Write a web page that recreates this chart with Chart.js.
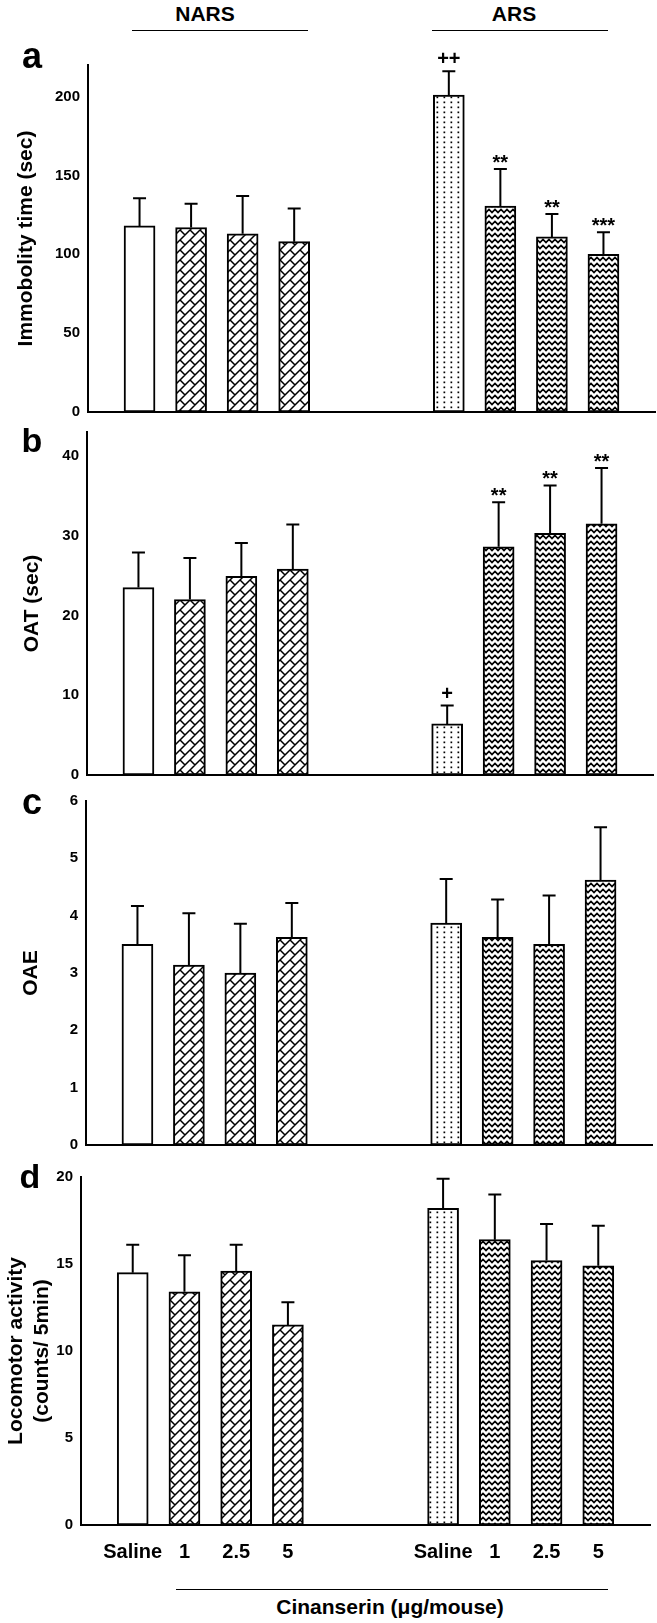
<!DOCTYPE html>
<html>
<head>
<meta charset="utf-8">
<script src="https://cdn.jsdelivr.net/npm/chart.js@4"></script>
<style>
  body { margin: 0; background: #fff; }
  #page { position: relative; width: 657px; height: 1623px; overflow: hidden;
          font-family: "Liberation Sans", Arial, sans-serif; color: #000; }
  .panel { position: absolute; left: 0; }
  .txt { position: absolute; font-weight: bold; white-space: nowrap; transform: translate(-50%, -50%); }
  .rule { position: absolute; height: 0; border-top: 1.5px solid #000; }
</style>
</head>
<body>
<div id="page">
  <div class="txt" style="left:205px;top:14px;font-size:21px">NARS</div>
  <div class="rule" style="left:132px;top:30px;width:176px"></div>
  <div class="txt" style="left:514px;top:14px;font-size:21px">ARS</div>
  <div class="rule" style="left:432px;top:30px;width:176px"></div>

  <div class="panel" style="top:40px"><canvas id="chartA" width="657" height="380"></canvas></div>
  <div class="panel" style="top:420px"><canvas id="chartB" width="657" height="360"></canvas></div>
  <div class="panel" style="top:780px"><canvas id="chartC" width="657" height="370"></canvas></div>
  <div class="panel" style="top:1150px"><canvas id="chartD" width="657" height="420"></canvas></div>

  <div class="txt" style="left:32px;top:56px;font-size:36px">a</div>
  <div class="txt" style="left:32px;top:440px;font-size:34px">b</div>
  <div class="txt" style="left:32px;top:802px;font-size:36px">c</div>
  <div class="txt" style="left:30px;top:1176px;font-size:34px">d</div>

  <div class="rule" style="left:176px;top:1589px;width:432px"></div>
  <div class="txt" style="left:390px;top:1607px;font-size:21px">Cinanserin (μg/mouse)</div>
</div>

<script>
// x slots: blank edges and a two-slot gap between the NARS and ARS groups
const X_LABELS = ['', 'Saline', '1', '2.5', '5', '', '', 'Saline', '1', '2.5', '5', ''];

// a) immobility time (sec)
const IMMOB_NARS = [118, 117, 113, 108];
const IMMOB_NARS_SEM = [17.5, 15, 24, 21];
const IMMOB_ARS = [201, 130.5, 111, 100];
const IMMOB_ARS_SEM = [15, 23.5, 14.5, 14];
const IMMOB_MARKS = ['++', '**', '**', '***'];
const IMMOB_TICKS = [0, 50, 100, 150, 200];

// b) OAT (sec)
const OAT_NARS = [23.5, 22.0, 24.9, 25.8];
const OAT_NARS_SEM = [4.4, 5.2, 4.2, 5.6];
const OAT_ARS = [6.4, 28.6, 30.3, 31.5];
const OAT_ARS_SEM = [2.3, 5.6, 6.0, 7.0];
const OAT_MARKS = ['+', '**', '**', '**'];
const OAT_TICKS = [0, 10, 20, 30, 40];

// c) OAE
const OAE_NARS = [3.50, 3.14, 3.00, 3.62];
const OAE_NARS_SEM = [0.67, 0.90, 0.86, 0.60];
const OAE_ARS = [3.87, 3.62, 3.50, 4.62];
const OAE_ARS_SEM = [0.77, 0.66, 0.85, 0.92];
const OAE_TICKS = [0, 1, 2, 3, 4, 5, 6];

// d) locomotor activity (counts/ 5min)
const LOCO_NARS = [14.5, 13.4, 14.6, 11.5];
const LOCO_NARS_SEM = [1.6, 2.1, 1.5, 1.3];
const LOCO_ARS = [18.2, 16.4, 15.2, 14.9];
const LOCO_ARS_SEM = [1.7, 2.6, 2.1, 2.3];
const LOCO_TICKS = [0, 5, 10, 15, 20];

const FONT = '"Liberation Sans", Arial, sans-serif';

function spread(nars, ars) {
  return [null, ...nars, null, null, ...ars, null];
}

// ---- fill patterns ----
function makeTile(w, h, draw) {
  const c = document.createElement('canvas');
  c.width = w; c.height = h;
  const g = c.getContext('2d');
  g.fillStyle = '#fff';
  g.fillRect(0, 0, w, h);
  g.strokeStyle = '#000';
  g.fillStyle = '#000';
  draw(g);
  return g.createPattern(c, 'repeat');
}

// diagonal bricks: tile period P, bricks of length P*sqrt2 rotated 45deg
function brickPattern() {
  const P = 10;
  const L = P * Math.SQRT2, h = L / 2;
  return makeTile(P, P, g => {
    g.lineWidth = 1.5;
    g.rotate(-Math.PI / 4);
    g.beginPath();
    for (let k = -6; k <= 6; k++) {
      const v = k * h;
      g.moveTo(-60, v); g.lineTo(60, v);
      for (let m = -6; m <= 6; m++) {
        const u = m * L + (Math.abs(k) % 2 ? L / 2 : 0);
        g.moveTo(u, v); g.lineTo(u, v + h);
      }
    }
    g.stroke();
  });
}

function zigzagPattern() {
  return makeTile(6, 6, g => {
    g.lineWidth = 1.6;
    g.beginPath();
    g.moveTo(-3, 1.5); g.lineTo(0, 4.5); g.lineTo(3, 1.5); g.lineTo(6, 4.5); g.lineTo(9, 1.5);
    g.stroke();
  });
}

function dotPattern() {
  return makeTile(7, 5, g => {
    g.fillRect(2.5, 1.5, 1.7, 1.7);
  });
}

const BRICK = brickPattern();
const ZIGZAG = zigzagPattern();
const DOTS = dotPattern();
const BAR_FILLS = spread(['#fff', BRICK, BRICK, BRICK], [DOTS, ZIGZAG, ZIGZAG, ZIGZAG]);

// ---- error bars + significance marks ----
const errorBarPlugin = {
  id: 'errorBars',
  afterDatasetsDraw(chart) {
    const ds = chart.data.datasets[0];
    const meta = chart.getDatasetMeta(0);
    const yScale = chart.scales.y;
    const ctx = chart.ctx;
    ctx.save();
    ctx.strokeStyle = '#000';
    ctx.fillStyle = '#000';
    ctx.lineWidth = 2;
    ctx.textAlign = 'center';
    ctx.textBaseline = 'alphabetic';
    ctx.font = 'bold 20px ' + FONT;
    meta.data.forEach((bar, i) => {
      const v = ds.data[i];
      if (v == null) return;
      const top = yScale.getPixelForValue(v + ds.sem[i]);
      ctx.beginPath();
      ctx.moveTo(bar.x, bar.y);
      ctx.lineTo(bar.x, top);
      ctx.moveTo(bar.x - 6.5, top);
      ctx.lineTo(bar.x + 6.5, top);
      ctx.stroke();
      const mark = ds.marks[i];
      if (mark) {
        const lift = mark.includes('+') ? 6 : 0;
        ctx.fillText(mark, bar.x, top - lift);
      }
    });
    ctx.restore();
  }
};

function buildPanelChart(canvasId, spec) {
  const ctx = document.getElementById(canvasId).getContext('2d');
  return new Chart(ctx, {
    type: 'bar',
    data: {
      labels: X_LABELS,
      datasets: [{
        data: spread(spec.nars, spec.ars),
        sem: spread(spec.narsSem, spec.arsSem),
        marks: spread(['', '', '', ''], spec.marks || ['', '', '', '']),
        backgroundColor: BAR_FILLS,
        borderColor: '#000',
        borderWidth: 2,
        borderSkipped: false,
        barThickness: 31,
      }],
    },
    options: {
      responsive: false,
      animation: false,
      layout: { padding: spec.padding },
      plugins: {
        legend: { display: false },
        tooltip: { enabled: false },
      },
      scales: {
        x: {
          offset: false,
          grid: { display: false, drawTicks: false },
          border: { display: true, color: '#000', width: 2 },
          ticks: {
            display: !!spec.showXTicks,
            autoSkip: false,
            maxRotation: 0,
            minRotation: 0,
            padding: 15,
            color: '#000',
            font: { family: FONT, size: 20, weight: 'bold' },
          },
          afterFit: s => { s.height = spec.xHeight; s.paddingLeft = 0; s.paddingRight = 0; },
        },
        y: {
          min: 0,
          max: spec.max,
          afterBuildTicks: s => { s.ticks = spec.ticks.map(v => ({ value: v })); },
          grid: { display: false, drawTicks: false },
          border: { display: true, color: '#000', width: 2 },
          ticks: {
            padding: 8,
            color: '#000',
            font: { family: FONT, size: 15, weight: 'bold' },
          },
          title: {
            display: true,
            text: spec.title,
            color: '#000',
            font: { family: FONT, size: 21, weight: 'bold', lineHeight: 1.2 },
            padding: { top: spec.titlePad, bottom: 0 },
          },
          afterFit: s => { s.width = spec.yWidth; s.paddingTop = 0; s.paddingBottom = 0; },
        },
      },
    },
    plugins: [errorBarPlugin],
  });
}

buildPanelChart('chartA', {
  nars: IMMOB_NARS, narsSem: IMMOB_NARS_SEM, ars: IMMOB_ARS, arsSem: IMMOB_ARS_SEM,
  marks: IMMOB_MARKS, ticks: IMMOB_TICKS, max: 220,
  title: 'Immobolity time (sec)', titlePad: 14,
  yWidth: 88, xHeight: 0,
  padding: { top: 25, bottom: 8, left: 0, right: 2 },
});

buildPanelChart('chartB', {
  nars: OAT_NARS, narsSem: OAT_NARS_SEM, ars: OAT_ARS, arsSem: OAT_ARS_SEM,
  marks: OAT_MARKS, ticks: OAT_TICKS, max: 43,
  title: 'OAT (sec)', titlePad: 20,
  yWidth: 87, xHeight: 0,
  padding: { top: 12, bottom: 5, left: 0, right: 4 },
});

buildPanelChart('chartC', {
  nars: OAE_NARS, narsSem: OAE_NARS_SEM, ars: OAE_ARS, arsSem: OAE_ARS_SEM,
  ticks: OAE_TICKS, max: 6,
  title: 'OAE', titlePad: 19,
  yWidth: 86, xHeight: 0,
  padding: { top: 21, bottom: 5, left: 0, right: 5 },
});

buildPanelChart('chartD', {
  nars: LOCO_NARS, narsSem: LOCO_NARS_SEM, ars: LOCO_ARS, arsSem: LOCO_ARS_SEM,
  ticks: LOCO_TICKS, max: 20,
  title: ['Locomotor activity', '(counts/ 5min)'], titlePad: 4,
  yWidth: 81, xHeight: 45, showXTicks: true,
  padding: { top: 27, bottom: 0, left: 0, right: 7 },
});
</script>
</body>
</html>
